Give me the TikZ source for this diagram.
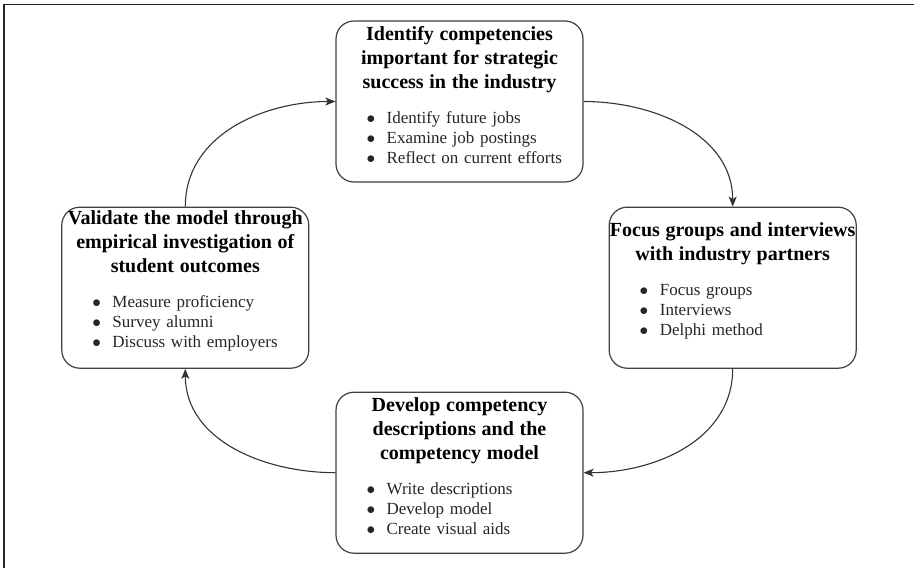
\documentclass[tikz,border=0pt]{standalone}
\usepackage{fontspec}
\setmainfont{Liberation Serif}
\usetikzlibrary{arrows.meta,positioning}
\newcommand{\stagehead}{\bfseries\fontsize{20}{24}\selectfont}
\newcommand{\stageitem}[1]{\hspace*{30.5pt}$\bullet$\hspace{11.5pt}#1}

\begin{document}
\begin{tikzpicture}[x=1pt,y=-1pt,
 stage/.style={draw=black!75,line width=1.2pt,rounded corners=18pt,fill=white,
   minimum width=247pt,minimum height=161pt,text width=247pt,inner xsep=0pt,inner ysep=0pt,
   align=left,font=\fontsize{17}{20}\selectfont,text=black!85},
 link/.style={draw=black!80,line width=1.1pt,-{Stealth[length=10pt,width=8pt,inset=2.5pt]}}]
\useasboundingbox (0,0) rectangle (914,568);
\draw[line width=1.3pt,black!85] (914,4.5) -- (4,4.5) -- (4,568);
\node[stage] (ident) at (459.5,101.5) {%
 {\centering\stagehead\color{black}Identify competencies\\important for strategic\\success in the industry\par}
 \vspace{15pt}
 \stageitem{Identify future jobs}\\
 \stageitem{Examine job postings}\\
 \stageitem{Reflect on current efforts}\par\vspace{13pt}};
\node[stage,below right=24pt and 25pt of ident] (focus) {%
 {\centering\stagehead\color{black}Focus groups and interviews\\with industry partners\par}
 \vspace{15pt}
 \stageitem{Focus groups}\\
 \stageitem{Interviews}\\
 \stageitem{Delphi method}\par\vspace{13pt}};
\node[stage,below=209pt of ident] (develop) {%
 {\centering\stagehead\color{black}Develop competency\\descriptions and the\\competency model\par}
 \vspace{15pt}
 \stageitem{Write descriptions}\\
 \stageitem{Develop model}\\
 \stageitem{Create visual aids}\par\vspace{13pt}};
\node[stage,below left=24pt and 26pt of ident] (validate) {%
 {\centering\stagehead\color{black}Validate the model through\\empirical investigation of\\student outcomes\par}
 \vspace{15pt}
 \stageitem{Measure proficiency}\\
 \stageitem{Survey alumni}\\
 \stageitem{Discuss with employers}\par\vspace{13pt}};
% cycle
\draw[link] (ident.east) to[out=0,in=90] (focus.north);
\draw[link] (focus.south) to[out=-90,in=0] (develop.east);
\draw[link] (develop.west) to[out=180,in=-90] (validate.south);
\draw[link] (validate.north) to[out=90,in=180] (ident.west);
\end{tikzpicture}
\end{document}
